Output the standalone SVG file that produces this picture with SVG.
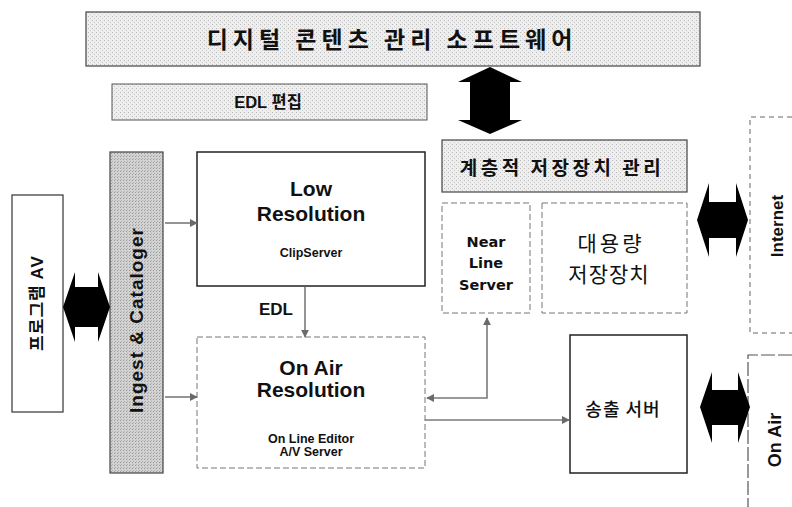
<svg xmlns="http://www.w3.org/2000/svg" width="792" height="507" viewBox="0 0 792 507">
<style>
.en{font-family:"Liberation Sans",Arial,sans-serif;font-weight:bold;fill:#111;text-anchor:middle}
.dv{font-family:"DejaVu Sans",sans-serif;font-weight:bold;fill:#111;text-anchor:middle}
.ko{font-family:"Noto Sans CJK KR","Noto Sans",sans-serif;fill:#111;text-anchor:middle}
.box{fill:#fff;stroke:#222;stroke-width:1.5}
.dash{fill:#fff;stroke:#777;stroke-width:1;stroke-dasharray:6 3}
.big{fill:#000}
.conn{fill:none;stroke:#7a7a7a;stroke-width:1.6}
</style>
<defs>
<marker id="ah" viewBox="0 0 10 10" refX="9" refY="5" markerWidth="8" markerHeight="8" orient="auto-start-reverse" markerUnits="userSpaceOnUse">
<path d="M0,0 L10,5 L0,10 z" fill="#6a6a6a"/>
</marker>
<pattern id="dots" width="4" height="4" patternUnits="userSpaceOnUse">
<rect width="4" height="4" fill="#eeeeee"/>
<rect x="0" y="0" width="1" height="1" fill="#b8b8b8"/>
<rect x="2" y="2" width="1" height="1" fill="#cccccc"/>
</pattern>
<pattern id="dots2" width="3" height="3" patternUnits="userSpaceOnUse">
<rect width="3" height="3" fill="#d2d2d2"/>
<rect x="0" y="0" width="1" height="1" fill="#9a9a9a"/>
<rect x="1" y="2" width="1" height="1" fill="#b0b0b0"/>
</pattern>
</defs>

<g id="banner">
<rect x="86" y="12" width="614" height="54" fill="url(#dots)" stroke="#444" stroke-width="1.2"/>
<text class="ko" x="392" y="48" font-size="23" font-weight="700" letter-spacing="5" fill="#222">디지털 콘텐츠 관리 소프트웨어</text>
</g>

<g id="edl-edit">
<rect x="112" y="84" width="315" height="36" fill="url(#dots)" stroke="#555" stroke-width="1"/>
<text x="268" y="108"><tspan class="en" font-size="16.5">EDL </tspan><tspan class="ko" font-weight="700" font-size="16.5">편집</tspan></text>
</g>

<g id="program-av">
<rect x="12" y="195" width="51" height="217" fill="#fff" stroke="#333" stroke-width="1.2"/>
<text class="ko" transform="translate(43,303) rotate(-90)" font-size="17" font-weight="700" letter-spacing="1">프로그램  <tspan class="en">AV</tspan></text>
</g>

<g id="ingest">
<rect x="110" y="152" width="53" height="321" fill="url(#dots2)" stroke="#444" stroke-width="1.2"/>
<text class="en" transform="translate(143,320) rotate(-90)" font-size="19" letter-spacing="1">Ingest &amp; Cataloger</text>
</g>

<g id="low-res">
<rect class="box" x="197" y="152" width="228" height="134"/>
<text class="en" x="311" y="196" font-size="21">Low</text>
<text class="en" x="311" y="221" font-size="21">Resolution</text>
<text class="en" x="311" y="257" font-size="12.5">ClipServer</text>
</g>

<g id="onair-res">
<rect class="dash" x="197" y="337" width="228" height="131"/>
<text class="en" x="311" y="375" font-size="21">On Air</text>
<text class="en" x="311" y="397" font-size="21">Resolution</text>
<text class="en" x="311" y="443" font-size="12.5">On Line Editor</text>
<text class="en" x="311" y="456" font-size="12.5">A/V Server</text>
</g>

<g id="hsm">
<rect x="442" y="140" width="245" height="52" fill="url(#dots)" stroke="#444" stroke-width="1.2"/>
<text class="ko" x="562" y="175" font-size="19" font-weight="700" letter-spacing="3.5" fill="#222">계층적 저장장치 관리</text>
</g>

<g id="near-line">
<rect class="dash" x="442" y="203" width="88" height="110"/>
<text class="dv" x="486" y="247" font-size="14.5">Near</text>
<text class="dv" x="486" y="268" font-size="14.5">Line</text>
<text class="dv" x="486" y="290" font-size="14.5">Server</text>
</g>

<g id="mass-storage">
<rect class="dash" x="542" y="203" width="145" height="110"/>
<text class="ko" x="611" y="251" font-size="21" letter-spacing="3">대용량</text>
<text class="ko" x="609" y="282" font-size="21" letter-spacing="1">저장장치</text>
</g>

<g id="playout">
<rect class="box" x="570" y="335" width="117" height="138"/>
<text class="ko" x="623" y="416" font-size="18" font-weight="500" letter-spacing="1">송출 서버</text>
</g>

<g id="internet">
<path d="M792,117 H750 V333 H792" fill="none" stroke="#666" stroke-width="1" stroke-dasharray="5 4"/>
<text class="en" transform="translate(783,226) rotate(-90)" font-size="17">Internet</text>
</g>

<g id="onair">
<path d="M792,355 H748 V507" fill="none" stroke="#555" stroke-width="1.2" stroke-dasharray="14 3"/>
<text class="en" transform="translate(781,440) rotate(-90)" font-size="18">On Air</text>
</g>

<g id="connectors">
<polygon class="big" points="490,67 522,82 510,82 510,120 522,120 490,134 458,120 470,120 470,82 458,82"/>
<polygon class="big" points="63,307 75,272 75,287 98,287 98,272 110,307 98,342 98,327 75,327 75,342"/>
<polygon class="big" points="697,220 709,183 709,202 736,202 736,183 748,220 736,257 736,238 709,238 709,257"/>
<polygon class="big" points="700,407 712,372 712,390 738,390 738,372 750,407 738,443 738,425 712,425 712,443"/>
<line class="conn" x1="165" y1="223" x2="197" y2="223" marker-end="url(#ah)"/>
<line class="conn" x1="165" y1="397" x2="197" y2="397" marker-end="url(#ah)"/>
<line class="conn" x1="305" y1="287" x2="305" y2="337" marker-end="url(#ah)"/>
<text class="en" x="276" y="315" font-size="17">EDL</text>
<path class="conn" d="M427,398 H487 V318" marker-start="url(#ah)" marker-end="url(#ah)"/>
<line class="conn" x1="425" y1="420" x2="569" y2="420" marker-end="url(#ah)"/>
</g>
</svg>
